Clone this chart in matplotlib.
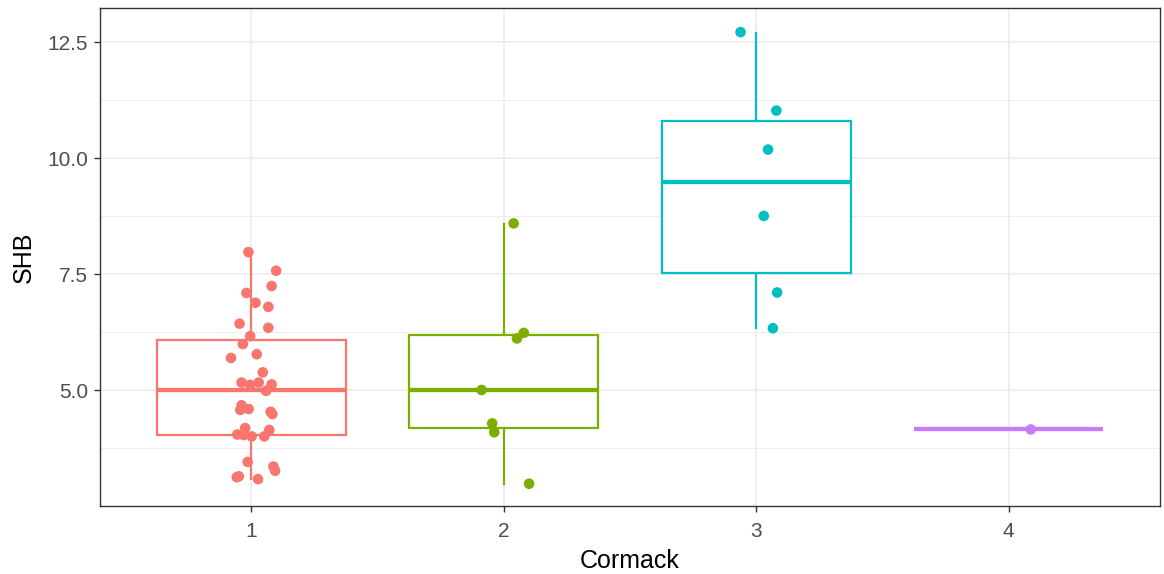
import matplotlib
matplotlib.use("Agg")
import matplotlib.pyplot as plt
from matplotlib.ticker import MultipleLocator, FormatStrFormatter

plt.rcParams["font.family"] = ["Liberation Sans", "DejaVu Sans"]

# ---- data ----
categories = ["1", "2", "3", "4"]
colors = ["#F8766D", "#7CAE00", "#00BFC4", "#C77CFF"]

# box statistics per group
q1 = [4.05, 4.20, 7.53, 4.16]
median = [5.00, 5.01, 9.49, 4.16]
q3 = [6.08, 6.19, 10.80, 4.16]
whislo = [3.09, 2.99, 6.35, 4.16]
whishi = [7.98, 8.59, 12.71, 4.16]

# jittered points: values and horizontal jitter offsets
g1_vals = [7.98, 7.58, 7.25, 7.10, 6.89, 6.80, 6.44, 6.35, 6.17, 6.00, 5.70, 5.78,
           5.39, 5.17, 5.12, 5.17, 5.13, 4.99, 4.68, 4.58, 4.60, 4.54, 4.49, 4.19,
           4.15, 4.05, 4.04, 4.01, 4.01, 3.46, 3.36, 3.27, 3.15, 3.13, 3.09]
g1_jit = [-0.012, 0.098, 0.080, -0.020, 0.016, 0.067, -0.047, 0.067, -0.005, -0.034,
          -0.081, 0.021, 0.045, -0.039, -0.005, 0.029, 0.080, 0.058, -0.039, -0.044,
          -0.011, 0.076, 0.083, -0.025, 0.071, -0.056, -0.031, 0.001, 0.051, -0.015,
          0.087, 0.094, -0.050, -0.058, 0.026]
g2_vals = [8.60, 6.24, 6.12, 5.01, 4.29, 4.10, 2.99]
g2_jit = [0.039, 0.079, 0.052, -0.088, -0.046, -0.038, 0.100]
g3_vals = [12.72, 11.03, 10.19, 8.76, 7.11, 6.34]
g3_jit = [-0.062, 0.080, 0.047, 0.030, 0.083, 0.066]
g4_vals = [4.16]
g4_jit = [0.088]

point_vals = [g1_vals, g2_vals, g3_vals, g4_vals]
point_jit = [g1_jit, g2_jit, g3_jit, g4_jit]

# ---- figure ----
fig = plt.figure(figsize=(11.64, 5.74), dpi=100)
ax = fig.add_axes([100 / 1164, 1 - 506 / 574, 1060 / 1164, 498 / 574])

positions = list(range(1, len(categories) + 1))

# grid
ax.set_axisbelow(True)
ax.yaxis.set_major_locator(MultipleLocator(2.5))
ax.yaxis.set_minor_locator(MultipleLocator(1.25))
ax.grid(which="major", color="#EBEBEB", linewidth=1.1)
ax.grid(which="minor", axis="y", color="#EBEBEB", linewidth=0.55)

for i, pos in enumerate(positions):
    stats = [dict(med=median[i], q1=q1[i], q3=q3[i], whislo=whislo[i], whishi=whishi[i], fliers=[])]
    c = colors[i]
    ax.bxp(stats, positions=[pos], widths=0.75, showfliers=False, showcaps=False,
           patch_artist=True,
           boxprops=dict(facecolor="white", edgecolor=c, linewidth=1.6),
           whiskerprops=dict(color=c, linewidth=1.6),
           medianprops=dict(color=c, linewidth=3.1, solid_capstyle="butt"),
           zorder=2)
    xs = [pos + j for j in point_jit[i]]
    ax.scatter(xs, point_vals[i], s=58, color=c, edgecolors="none", zorder=3)

ax.set_xlim(0.4, 4.6)
ax.set_ylim(2.51, 13.24)
ax.set_xticks(positions)
ax.set_xticklabels(categories)
ax.xaxis.set_minor_locator(matplotlib.ticker.NullLocator())
ax.yaxis.set_major_formatter(FormatStrFormatter("%.1f"))
ax.tick_params(axis="y", which="minor", length=0)

for s in ax.spines.values():
    s.set_color("#333333")
    s.set_linewidth(1.0)

ax.tick_params(axis="both", which="major", colors="#333333", length=4.5, width=1.0,
               labelsize=15, labelcolor="#4D4D4D", pad=4)
ax.tick_params(axis="x", which="major", pad=7)
ax.set_xlabel("Cormack", fontsize=18, color="black", labelpad=6)
ax.set_ylabel("SHB", fontsize=18, color="black", labelpad=8)

fig.savefig("out.png", dpi=100, facecolor="white")
